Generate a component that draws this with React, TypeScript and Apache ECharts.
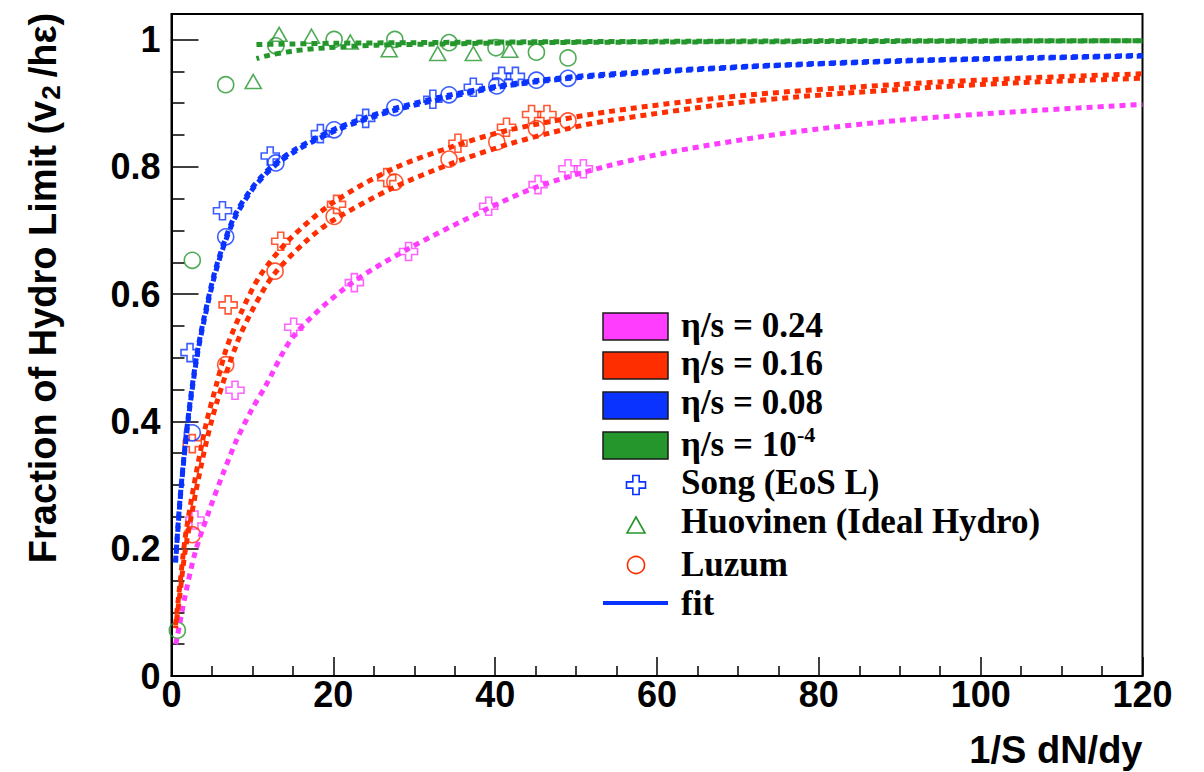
import React, { useEffect, useRef } from 'react';
import * as echarts from 'echarts';

type Pt = [number, number];

// Axis ranges and tick steps
const xRange: Pt = [0, 120];
const yRange: Pt = [0, 1.04];
const xTickStep = 20;
const yTickStep = 0.2;

// Song (EoS L) viscous hydro points (open crosses)
const songEta008: Pt[] = [
  [2.29, 0.508], [6.3, 0.731], [12.2, 0.817], [18.4, 0.852], [24.0, 0.876],
  [32.3, 0.906], [37.3, 0.925], [40.8, 0.942], [42.5, 0.942],
];
const songEta016: Pt[] = [
  [2.57, 0.365], [7.0, 0.583], [13.5, 0.683], [20.4, 0.741], [26.6, 0.783],
  [35.4, 0.837], [41.4, 0.862], [44.5, 0.882], [46.4, 0.882],
];
const songEta024: Pt[] = [
  [2.9, 0.245], [7.85, 0.449], [15.1, 0.548], [22.6, 0.618], [29.3, 0.667],
  [39.2, 0.738], [45.3, 0.772], [49.0, 0.797], [50.9, 0.797],
];

// Luzum points (open circles)
const luzumEta008: Pt[] = [
  [2.57, 0.382], [6.7, 0.69], [12.9, 0.806], [20.1, 0.858], [27.6, 0.893],
  [34.3, 0.913], [40.2, 0.927], [45.1, 0.936], [49.0, 0.939],
];
const luzumEta016: Pt[] = [
  [2.57, 0.222], [6.7, 0.489], [12.8, 0.636], [20.1, 0.722], [27.6, 0.776],
  [34.3, 0.812], [40.2, 0.839], [45.1, 0.86], [49.0, 0.872],
];
const luzumIdeal: Pt[] = [
  [0.72, 0.072], [2.57, 0.653], [6.7, 0.929], [12.9, 0.99], [20.1, 1.0],
  [27.6, 1.0], [34.3, 0.995], [40.1, 0.987], [45.1, 0.98], [49.0, 0.971],
];

// Huovinen ideal hydro points (open triangles)
const huovinenIdeal: Pt[] = [
  [10.1, 0.934], [13.3, 1.008], [17.3, 1.005], [22.1, 0.996],
  [26.9, 0.984], [32.9, 0.978], [37.3, 0.978], [41.8, 0.983],
];

// Fitted curves
const fitEta024: Pt[] = [
  [0.5, 0.05], [0.64, 0.057], [1.67, 0.125], [2.9, 0.193], [4.55, 0.256],
  [6.4, 0.319], [8.06, 0.371], [9.9, 0.418], [11.6, 0.455], [15.1, 0.534],
  [21.7, 0.612], [29.1, 0.67], [39.2, 0.735], [45.3, 0.769], [53.8, 0.801],
  [62, 0.824], [76, 0.853], [90, 0.873], [105, 0.887], [120, 0.898],
];
const fitEta016Song: Pt[] = [
  [0.5, 0.08], [1.05, 0.145], [1.67, 0.215], [2.5, 0.28], [3.3, 0.335],
  [4.35, 0.4], [5.6, 0.46], [6.8, 0.515], [8.5, 0.568], [10.9, 0.628],
  [14.6, 0.686], [20, 0.744], [27.4, 0.797], [34.8, 0.832], [41.8, 0.858],
  [54.2, 0.887], [71.6, 0.913], [90.5, 0.93], [104.6, 0.939], [120, 0.946],
];
const fitEta016Luzum: Pt[] = [
  [0.5, 0.075], [1.05, 0.13], [1.67, 0.195], [2.5, 0.255], [3.3, 0.308],
  [4.35, 0.37], [5.6, 0.43], [8.06, 0.522], [10, 0.575], [12.6, 0.63],
  [16.7, 0.684], [20, 0.716], [27.4, 0.767], [34.8, 0.806], [41.8, 0.836],
  [49, 0.86], [54.2, 0.873], [71.6, 0.903], [90.5, 0.922], [104.6, 0.932], [120, 0.939],
];
const fitEta008Song: Pt[] = [
  [0.5, 0.18], [1.0, 0.27], [1.5, 0.34], [2.0, 0.4], [2.5, 0.45], [3.2, 0.51],
  [4.06, 0.565], [5.29, 0.632], [6.52, 0.682], [7.96, 0.727], [9.8, 0.764],
  [11.45, 0.789], [13.3, 0.81], [15.5, 0.829], [18.0, 0.846], [20.5, 0.861],
  [23, 0.873], [27.4, 0.891], [34.1, 0.912], [40.0, 0.926], [44.8, 0.935],
  [53.1, 0.945], [71.6, 0.958], [90.5, 0.967], [104.6, 0.971], [120, 0.975],
];
const fitEta008Luzum: Pt[] = [
  [0.5, 0.178], [1.0, 0.266], [1.5, 0.336], [2.0, 0.395], [2.5, 0.445], [3.2, 0.505],
  [4.06, 0.56], [5.29, 0.627], [6.52, 0.678], [7.96, 0.723], [9.8, 0.761],
  [11.45, 0.786], [13.3, 0.807], [15.5, 0.826], [18.0, 0.843], [20.5, 0.858],
  [23, 0.87], [27.4, 0.888], [34.1, 0.909], [40.0, 0.924], [44.8, 0.933],
  [53.1, 0.943], [71.6, 0.957], [90.5, 0.966], [104.6, 0.97], [120, 0.974],
];
const fitIdealHuovinen: Pt[] = [
  [10.5, 0.992], [15, 0.993], [20, 0.994], [30, 0.995], [40, 0.996],
  [60, 0.997], [90, 0.998], [120, 0.998],
];
const fitIdealLuzum: Pt[] = [
  [10.5, 0.97], [12, 0.975], [15.1, 0.982], [19.2, 0.987], [25.4, 0.991],
  [33.6, 0.993], [45, 0.995], [60, 0.996], [90, 0.997], [120, 0.998],
];

// Legend texts
const viscosityLabels = ['η/s = 0.24', 'η/s = 0.16', 'η/s = 0.08', 'η/s = 10'];
const modelLabels = ['Song (EoS L)', 'Huovinen (Ideal Hydro)', 'Luzum', 'fit'];

const MAGENTA = '#FF3DFF';
const RED = '#FF2E00';
const BLUE = '#0A33FF';
const GREEN = '#24962C';

const SANS = '"Liberation Sans", Arial, Helvetica, sans-serif';
const SERIF = '"Liberation Serif", "Times New Roman", serif';

const CROSS = 'path://M1,0L2,0L2,1L3,1L3,2L2,2L2,3L1,3L1,2L0,2L0,1L1,1Z';

function crossPoints(cx: number, cy: number, s: number): number[][] {
  const u = s / 3;
  const x0 = cx - s / 2;
  const y0 = cy - s / 2;
  const grid = [[1, 0], [2, 0], [2, 1], [3, 1], [3, 2], [2, 2], [2, 3], [1, 3], [1, 2], [0, 2], [0, 1], [1, 1]];
  return grid.map(([a, b]) => [x0 + a * u, y0 + b * u]);
}

function fitLine(data: Pt[], color: string, dashOffset = 0) {
  return {
    type: 'line',
    data,
    symbol: 'none',
    smooth: 0.3,
    z: 4,
    silent: true,
    lineStyle: { color, width: 5, type: [6, 5], dashOffset, cap: 'butt' },
  };
}

function markers(data: Pt[], color: string, symbol: string, size: number | number[]) {
  return {
    type: 'scatter',
    data,
    symbol,
    symbolSize: size,
    z: 3,
    silent: true,
    itemStyle: { color: 'rgba(255,255,255,0)', borderColor: color, borderWidth: 1.6 },
  };
}

export default function App() {
  const ref = useRef<HTMLDivElement>(null);

  useEffect(() => {
    if (!ref.current) return;
    const chart = echarts.init(ref.current, undefined, { renderer: 'svg' });

    const boxColors = [MAGENTA, RED, BLUE, GREEN];
    const boxTops = [313, 352, 392, 432];
    const boxText = [325, 363, 402.5, 444];
    const legendGraphics: any[] = [];
    boxColors.forEach((c, i) => {
      legendGraphics.push({
        type: 'rect',
        shape: { x: 603, y: boxTops[i], width: 65, height: 27 },
        style: { fill: c, stroke: '#1a1a1a', lineWidth: 1.5 },
      });
      legendGraphics.push({
        type: 'text',
        x: 681,
        y: boxText[i],
        style: { text: viscosityLabels[i], font: `bold 35px ${SERIF}`, fill: '#000', verticalAlign: 'middle' },
      });
    });
    legendGraphics.push({
      type: 'text',
      x: 797,
      y: 434,
      style: { text: '-4', font: `bold 22px ${SERIF}`, fill: '#000', verticalAlign: 'middle' },
    });
    legendGraphics.push({
      type: 'polygon',
      shape: { points: crossPoints(636, 485, 19) },
      style: { fill: 'none', stroke: BLUE, lineWidth: 1.6 },
    });
    legendGraphics.push({
      type: 'polygon',
      shape: { points: [[636, 517], [645, 533], [627, 533]] },
      style: { fill: 'none', stroke: GREEN, lineWidth: 1.6 },
    });
    legendGraphics.push({
      type: 'circle',
      shape: { cx: 636, cy: 565, r: 8.5 },
      style: { fill: 'none', stroke: RED, lineWidth: 1.6 },
    });
    legendGraphics.push({
      type: 'line',
      shape: { x1: 603, y1: 603, x2: 668, y2: 603 },
      style: { stroke: BLUE, lineWidth: 4 },
    });
    const modelTextY = [482, 521.5, 564.5, 603];
    modelLabels.forEach((t, i) => {
      legendGraphics.push({
        type: 'text',
        x: 681,
        y: modelTextY[i],
        style: { text: t, font: `bold 35px ${SERIF}`, fill: '#000', verticalAlign: 'middle' },
      });
    });

    const option: any = {
      animation: false,
      backgroundColor: '#ffffff',
      grid: {
        left: 171.5,
        right: 61.5,
        top: 14,
        bottom: 96,
        show: true,
        borderColor: '#000',
        borderWidth: 2,
        backgroundColor: 'transparent',
      },
      xAxis: {
        type: 'value',
        min: xRange[0],
        max: xRange[1],
        interval: xTickStep,
        splitLine: { show: false },
        axisLine: { show: true, onZero: false, lineStyle: { color: '#000', width: 2 } },
        axisTick: { show: true, inside: true, length: 19, lineStyle: { color: '#000', width: 1.5 } },
        minorTick: { show: true, splitNumber: 4, length: 10, lineStyle: { color: '#000', width: 1.5 } },
        axisLabel: {
          margin: 0,
          color: '#000',
          fontSize: 36,
          fontWeight: 'bold',
          fontFamily: SANS,
        },
        name: '1/S dN/dy',
        nameLocation: 'end',
        nameGap: 0,
        nameTextStyle: {
          color: '#000',
          fontSize: 38,
          fontWeight: 'bold',
          fontFamily: SANS,
          align: 'right',
          verticalAlign: 'top',
          padding: [55, 0, 0, 0],
        },
      },
      yAxis: {
        type: 'value',
        min: yRange[0],
        max: yRange[1],
        interval: yTickStep,
        splitLine: { show: false },
        axisLine: { show: true, onZero: false, lineStyle: { color: '#000', width: 2 } },
        axisTick: { show: true, inside: true, length: 27, lineStyle: { color: '#000', width: 1.5 } },
        minorTick: { show: true, splitNumber: 4, length: 13, lineStyle: { color: '#000', width: 1.5 } },
        axisLabel: {
          margin: 11,
          color: '#000',
          fontSize: 36,
          fontWeight: 'bold',
          fontFamily: SANS,
          formatter: (v: number) => (v > 1.0001 ? '' : String(Math.round(v * 10) / 10)),
        },
        name: 'Fraction of Hydro Limit (v{sub|2}/hε)',
        nameLocation: 'middle',
        nameRotate: 90,
        nameGap: 108,
        nameTextStyle: {
          color: '#000',
          fontSize: 38,
          fontWeight: 'bold',
          fontFamily: SANS,
          padding: [0, 0, 0, 114],
          rich: {
            sub: {
              fontSize: 26,
              fontWeight: 'bold',
              fontFamily: SANS,
              color: '#000',
              verticalAlign: 'bottom',
              padding: [16, 8, 0, 1],
            },
          },
        },
      },
      series: [
        markers(songEta024, MAGENTA, CROSS, 18),
        markers(songEta016, RED, CROSS, 18),
        markers(songEta008, BLUE, CROSS, 18),
        markers(luzumEta016, RED, 'circle', 16),
        markers(luzumEta008, BLUE, 'circle', 16),
        markers(luzumIdeal, GREEN, 'circle', 16),
        markers(huovinenIdeal, GREEN, 'triangle', [16, 14]),
        fitLine(fitEta024, MAGENTA),
        fitLine(fitEta016Song, RED),
        fitLine(fitEta016Luzum, RED, 3),
        fitLine(fitEta008Song, BLUE),
        fitLine(fitEta008Luzum, BLUE, 2),
        fitLine(fitIdealHuovinen, GREEN),
        fitLine(fitIdealLuzum, GREEN, 3),
      ],
      graphic: legendGraphics,
    };

    chart.setOption(option);
    return () => chart.dispose();
  }, []);

  return (
    <div style={{ position: 'fixed', left: 0, top: 0, width: 1204, height: 772, background: '#fff' }}>
      <div ref={ref} style={{ width: 1204, height: 772 }} />
    </div>
  );
}
